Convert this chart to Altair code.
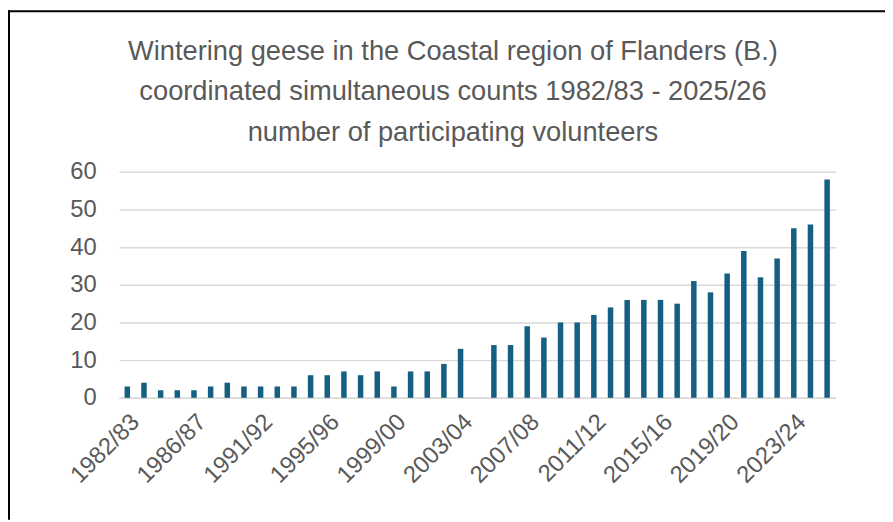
import altair as alt
import pandas as pd

seasons = [
    "1982/83", "1983/84", "1984/85", "1985/86", "1986/87",
    "1988/89", "1989/90", "1990/91", "1991/92", "1992/93",
    "1993/94", "1994/95", "1995/96", "1996/97", "1997/98",
    "1998/99", "1999/00", "2000/01", "2001/02", "2002/03",
    "2003/04", "2004/05", "2005/06", "2006/07", "2007/08",
    "2008/09", "2009/10", "2010/11", "2011/12", "2012/13",
    "2013/14", "2014/15", "2015/16", "2016/17", "2017/18",
    "2018/19", "2019/20", "2020/21", "2021/22", "2022/23",
    "2023/24", "2024/25", "2025/26",
]
volunteers = [
    3, 4, 2, 2, 2, 3, 4, 3, 3, 3,
    3, 6, 6, 7, 6, 7, 3, 7, 7, 9,
    13, None, 14, 14, 19, 16, 20, 20, 22, 24,
    26, 26, 26, 25, 31, 28, 33, 39, 32, 37,
    45, 46, 58,
]
tick_labels = [
    "1982/83", "1986/87", "1991/92", "1995/96", "1999/00", "2003/04",
    "2007/08", "2011/12", "2015/16", "2019/20", "2023/24",
]
y_ticks = [0, 10, 20, 30, 40, 50, 60]

title_lines = [
    "Wintering geese in the Coastal region of Flanders (B.)",
    "coordinated simultaneous counts 1982/83 - 2025/26",
    "number of participating volunteers",
]

df = pd.DataFrame({"season": seasons, "volunteers": volunteers})
one = pd.DataFrame({"k": [0]})

W, H = 723, 228
PAD_L, PAD_T = 112, 163
TOTAL_W, TOTAL_H = 885, 514
PAD_R = TOTAL_W - W - PAD_L
PAD_B = TOTAL_H - H - PAD_T

bars = alt.Chart(df).mark_bar(color="#156082").encode(
    x=alt.X(
        "season:N",
        sort=seasons,
        scale=alt.Scale(domain=seasons, paddingInner=0.67, paddingOuter=0.335),
        axis=alt.Axis(
            title=None,
            values=tick_labels,
            labelAngle=-45,
            labelFontSize=24,
            labelColor="#595959",
            labelFont="Liberation Sans",
            ticks=False,
            labelPadding=12,
            domainColor="#d9d9d9",
            domainWidth=1.5,
            grid=False,
        ),
    ),
    y=alt.Y(
        "volunteers:Q",
        scale=alt.Scale(domain=[0, 60], nice=False),
        axis=alt.Axis(
            title=None,
            values=y_ticks,
            labelFontSize=24,
            labelColor="#595959",
            labelFont="Liberation Sans",
            ticks=False,
            domain=False,
            labelPadding=23,
            gridColor="#d9d9d9",
            gridWidth=1.5,
        ),
    ),
)

title = alt.Chart(one).mark_text(
    font="Liberation Sans",
    fontSize=27.5,
    color="#595959",
    align="center",
    baseline="top",
    lineHeight=41,
).encode(
    x=alt.value(457 - 120),
    y=alt.value(36 - 171),
    text=alt.value(title_lines),
)

frame_left = alt.Chart(one).mark_rule(color="black", strokeWidth=2).encode(
    x=alt.value(-PAD_L + 1),
    y=alt.value(-PAD_T),
    y2=alt.value(H + PAD_B),
)
frame_top = alt.Chart(one).mark_rule(color="black", strokeWidth=2).encode(
    x=alt.value(-PAD_L),
    x2=alt.value(W + PAD_R),
    y=alt.value(-PAD_T + 1),
)

chart = alt.layer(bars, title, frame_left, frame_top).properties(
    width=W,
    height=H,
    padding={"left": PAD_L, "top": PAD_T, "right": PAD_R, "bottom": PAD_B},
    autosize=alt.AutoSizeParams(type="none"),
).configure_view(stroke=None)

chart.save("out.html", embed_options={"renderer": "svg", "actions": False})
